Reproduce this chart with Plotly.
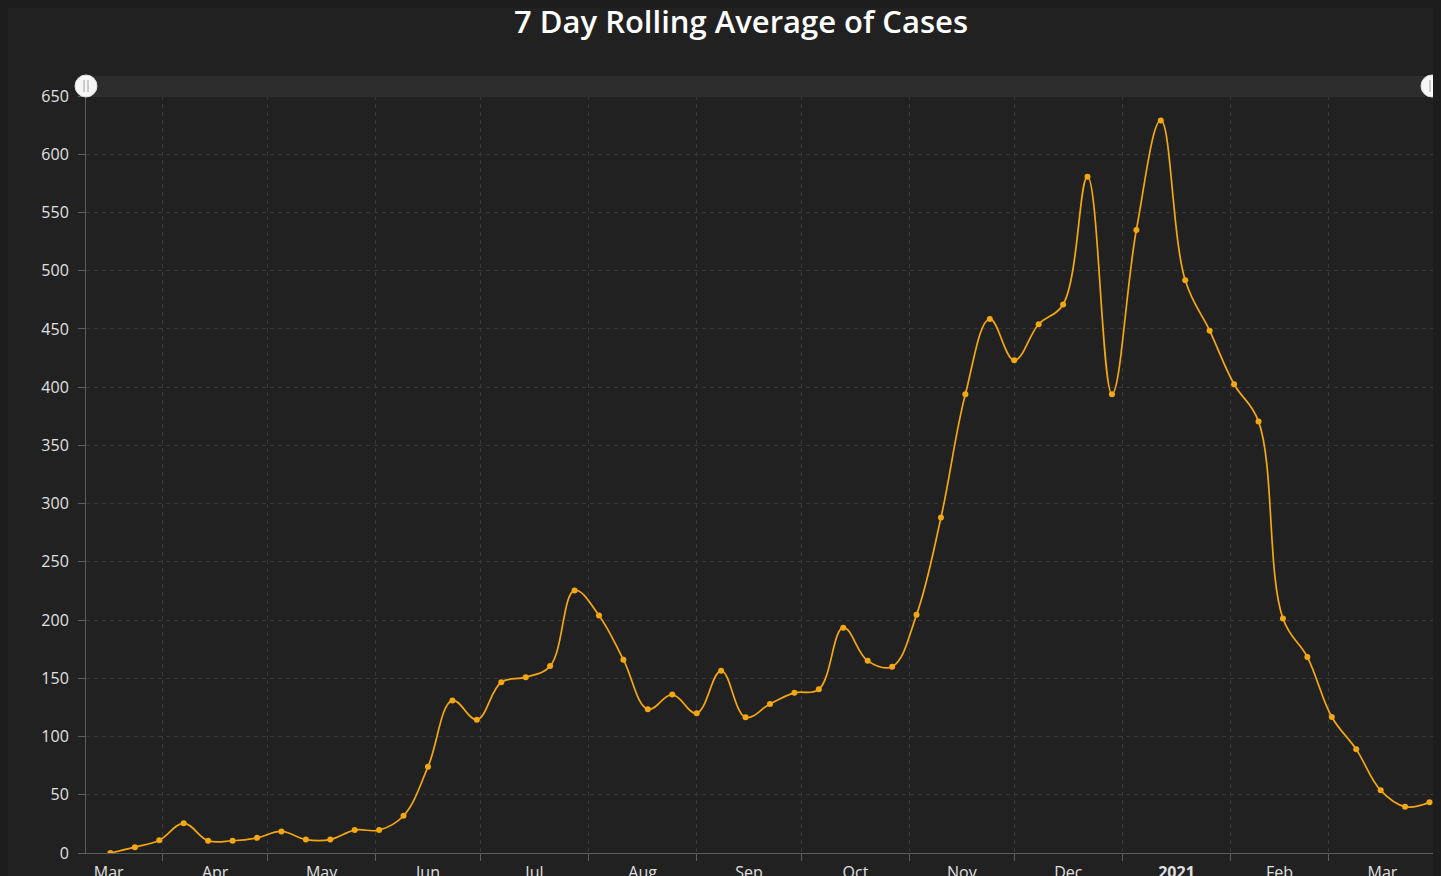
import pandas as pd
import plotly.graph_objects as go

# ---- data ----
dates = [
    "2020-03-17", "2020-03-24", "2020-03-31", "2020-04-07", "2020-04-14", "2020-04-21", "2020-04-28",
    "2020-05-05", "2020-05-12", "2020-05-19", "2020-05-26", "2020-06-02", "2020-06-09", "2020-06-16",
    "2020-06-23", "2020-06-30", "2020-07-07", "2020-07-14", "2020-07-21", "2020-07-28", "2020-08-04",
    "2020-08-11", "2020-08-18", "2020-08-25", "2020-09-01", "2020-09-08", "2020-09-15", "2020-09-22",
    "2020-09-29", "2020-10-06", "2020-10-13", "2020-10-20", "2020-10-27", "2020-11-03", "2020-11-10",
    "2020-11-17", "2020-11-24", "2020-12-01", "2020-12-08", "2020-12-15", "2020-12-22", "2020-12-29",
    "2021-01-05", "2021-01-12", "2021-01-19", "2021-01-26", "2021-02-02", "2021-02-09", "2021-02-16",
    "2021-02-23", "2021-03-02", "2021-03-09", "2021-03-16", "2021-03-23", "2021-03-30",
]
cases_avg = [
    0, 5, 11, 25.5, 10.5, 10.5, 13,
    18.5, 11.5, 11.5, 19.7, 19.7, 32, 74,
    131, 114.5, 146.6, 151, 160.5, 225.5, 204,
    166, 123.5, 136, 120, 156.5, 116.5, 128,
    137.5, 140.5, 193.5, 165, 160, 204.5, 288,
    394, 458.5, 423, 454, 471, 580.7, 394,
    535, 629, 491.7, 448.5, 402.5, 370.6, 201.3,
    168.2, 116.8, 89, 53.8, 39.8, 43.5,
]
month_labels = ["Mar", "Apr", "May", "Jun", "Jul", "Aug", "Sep", "Oct",
                "Nov", "Dec", "<b>2021</b>", "Feb", "Mar"]
month_starts = pd.date_range("2020-03-01", periods=len(month_labels) + 1, freq="MS")
label_pos = [month_starts[i] + (month_starts[i + 1] - month_starts[i]) / 2
             for i in range(len(month_labels))]
y_ticks = list(range(0, 651, 50))

BG = "#212121"
GRID = "#383838"
AXIS = "#5e5e5e"
LINE = "#f3a712"
TXT = "#e0e0e0"
FONT = "Open Sans"
W, H = 1433, 868

fig = go.Figure()
fig.add_trace(go.Scatter(
    x=dates, y=cases_avg, mode="lines+markers",
    line=dict(color=LINE, width=1.7, shape="spline", smoothing=1.1),
    marker=dict(color=LINE, size=6),
    hoverinfo="x+y", showlegend=False,
))

fig.update_layout(
    width=W, height=H,
    margin=dict(l=78, r=8, t=88, b=23, autoexpand=False),
    paper_bgcolor=BG, plot_bgcolor=BG,
    font=dict(family=FONT, color=TXT, size=16),
    title=dict(text="7 Day Rolling Average of Cases", x=733 / W, xanchor="center",
               xref="container", y=1 - 14 / H, yanchor="middle", yref="container",
               automargin=False,
               font=dict(family=FONT, size=31, color="#ffffff", weight=600)),
    xaxis=dict(
        type="date", range=["2020-03-10", "2021-03-31"], automargin=False,
        tickmode="array", tickvals=label_pos, ticktext=month_labels,
        ticks="", showgrid=False, showline=True, linecolor=AXIS, linewidth=1,
        tickfont=dict(size=16, color=TXT), zeroline=False, ticklabelstandoff=5,
        minor=dict(dtick="M1", tick0="2020-01-01", showgrid=True, gridcolor=GRID,
                   griddash="4px,4px", gridwidth=1, ticks="outside", ticklen=7,
                   tickcolor=AXIS),
    ),
    yaxis=dict(
        range=[0, 650], tickmode="array", tickvals=y_ticks, automargin=False,
        showgrid=True, gridcolor=GRID, griddash="4px,4px", gridwidth=1,
        ticks="outside", ticklen=7, tickcolor=AXIS, ticklabelstandoff=6,
        showline=True, linecolor=AXIS, linewidth=1, zeroline=False,
        tickfont=dict(size=16, color=TXT),
    ),
)

# scrollbar band and grips above the plot (decoration)
PW, PH = 1347.0, 757.0
fig.add_shape(type="rect", xref="paper", yref="paper",
              x0=0, x1=1 + 12 / PW, y0=1 - 1 / PH, y1=1 + 20 / PH,
              fillcolor="#2d2d2d", line=dict(width=0), layer="above")
for xa in (0.0, 1.0 - 1 / PW):
    fig.add_shape(type="circle", xref="paper", yref="paper", xsizemode="pixel",
                  ysizemode="pixel", xanchor=xa, yanchor=1 + 10 / PH,
                  x0=-11, x1=11, y0=-11, y1=11,
                  fillcolor="#f7f7f7", line=dict(color="#dcdcdc", width=1), layer="above")
    for dx in (-2, 2):
        fig.add_shape(type="line", xref="paper", yref="paper", xsizemode="pixel",
                      ysizemode="pixel", xanchor=xa, yanchor=1 + 10 / PH,
                      x0=dx, x1=dx, y0=-6, y1=6,
                      line=dict(color="#a0a0a0", width=1), layer="above")

fig.write_html(
    "out.html",
    post_script="document.body.style.marginBottom='0px';"
                "document.body.style.backgroundColor='#1d1d1d';",
)
